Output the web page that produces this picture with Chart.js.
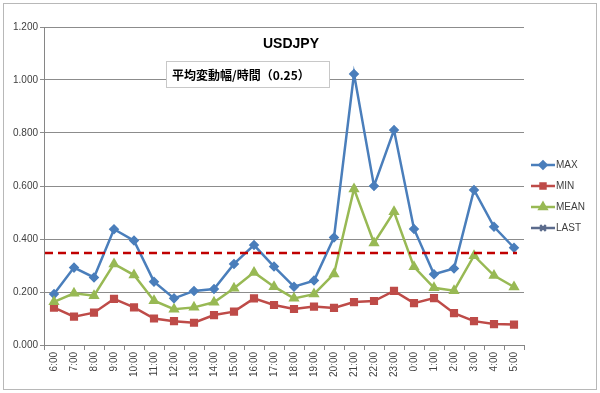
<!DOCTYPE html>
<html>
<head>
<meta charset="utf-8">
<script src="https://cdn.jsdelivr.net/npm/chart.js@4.4.1/dist/chart.umd.min.js"></script>
<style>
html,body{margin:0;padding:0;background:#fff;}
#wrap{position:relative;width:600px;height:393px;}
</style>
</head>
<body>
<div id="wrap"><canvas id="c" width="600" height="393"></canvas></div>
<script>
const categories = ["6:00","7:00","8:00","9:00","10:00","11:00","12:00","13:00","14:00","15:00","16:00","17:00","18:00","19:00","20:00","21:00","22:00","23:00","0:00","1:00","2:00","3:00","4:00","5:00"];
const maxValues  = [0.192,0.292,0.255,0.437,0.394,0.239,0.176,0.204,0.211,0.306,0.377,0.296,0.220,0.243,0.406,1.023,0.600,0.811,0.438,0.267,0.289,0.585,0.446,0.367];
const minValues  = [0.141,0.107,0.122,0.174,0.142,0.100,0.090,0.084,0.113,0.126,0.176,0.151,0.136,0.145,0.140,0.162,0.166,0.204,0.158,0.177,0.120,0.090,0.079,0.077];
const meanValues = [0.163,0.195,0.186,0.306,0.264,0.167,0.135,0.142,0.161,0.214,0.274,0.220,0.176,0.192,0.268,0.589,0.385,0.503,0.295,0.216,0.205,0.337,0.262,0.219];
const lastValues = [];
// dashed reference level, drawn from the axis to just past the last category
const thresholdLevel = 0.347;
const thresholdSpan = [0.05, 23.65];
const yTicks = [0, 0.2, 0.4, 0.6, 0.8, 1.0, 1.2];
const chartTitle = "USDJPY";
const subTitle = "平均変動幅/時間（0.25）";

const COLORS = {MAX:"#4A7EBB", MIN:"#BE4B48", MEAN:"#98B954", LAST:"#5B6B8C", TH:"#C00000"};
const FONT = "'Liberation Sans', Arial, sans-serif";

const legendItems = [
  {label:"MAX", color:COLORS.MAX, style:"rectRot", r:3.5},
  {label:"MIN", color:COLORS.MIN, style:"rect", r:3.5},
  {label:"MEAN", color:COLORS.MEAN, style:"triangle", r:4},
  {label:"LAST", color:COLORS.LAST, style:"crossRot", r:4}
];

const decor = {
  id:"decor",
  beforeDraw(chart){
    const ctx = chart.ctx;
    ctx.save();
    ctx.fillStyle = "#fff";
    ctx.fillRect(0,0,chart.width,chart.height);
    ctx.strokeStyle = "#b8b8b8";
    ctx.lineWidth = 1;
    ctx.strokeRect(3.5,3.5,593,386);
    ctx.restore();
  },
  afterDraw(chart){
    const ctx = chart.ctx;
    ctx.save();
    ctx.fillStyle = "#000";
    ctx.font = "bold 14px " + FONT;
    ctx.textAlign = "center";
    ctx.textBaseline = "middle";
    ctx.fillText(chartTitle, 291, 44);
    ctx.fillStyle = "#fff";
    ctx.fillRect(166, 61, 163, 26);
    ctx.strokeStyle = "#c8c8c8";
    ctx.lineWidth = 1;
    ctx.strokeRect(166.5, 61.5, 163, 26);
    ctx.fillStyle = "#000";
    ctx.font = "bold 12px 'Noto Sans CJK JP', " + FONT;
    ctx.textAlign = "left";
    ctx.fillText(subTitle, 172, 75);
    const ys = [165, 186, 207, 228];
    legendItems.forEach((it,i)=>{
      const y = ys[i];
      ctx.strokeStyle = it.color;
      ctx.lineWidth = 2.5;
      ctx.beginPath();
      ctx.moveTo(531, y);
      ctx.lineTo(555, y);
      ctx.stroke();
      ctx.fillStyle = it.color;
      ctx.strokeStyle = it.color;
      Chart.helpers.drawPoint(ctx, {pointStyle: it.style, radius: it.r, borderWidth: 1.5, rotation: 0}, 543, y);
      ctx.fillStyle = "#404040";
      ctx.font = "10px " + FONT;
      ctx.textAlign = "left";
      ctx.textBaseline = "middle";
      ctx.fillText(it.label, 556, y + 0.5);
    });
    ctx.restore();
  }
};

new Chart(document.getElementById("c"), {
  type: "line",
  data: {
    labels: categories,
    datasets: [
      {label:"TH", data: thresholdSpan.map(x => ({x: x, y: thresholdLevel})), xAxisID: "x2", borderColor: COLORS.TH, borderWidth: 2.5, borderDash:[8,5], pointRadius:0, order:0, tension:0},
      {label:"LAST", data: lastValues, borderColor: COLORS.LAST, backgroundColor: COLORS.LAST, borderWidth: 2.5, pointStyle:"crossRot", pointRadius:4, order:1},
      {label:"MEAN", data: meanValues, borderColor: COLORS.MEAN, backgroundColor: COLORS.MEAN, borderWidth: 2.5, pointStyle:"triangle", pointRadius:4, order:2},
      {label:"MIN", data: minValues, borderColor: COLORS.MIN, backgroundColor: COLORS.MIN, borderWidth: 2.5, pointStyle:"rect", pointRadius:4, order:3},
      {label:"MAX", data: maxValues, borderColor: COLORS.MAX, backgroundColor: COLORS.MAX, borderWidth: 2.5, pointStyle:"rectRot", pointRadius:3.5, order:4}
    ]
  },
  options: {
    responsive: false,
    animation: false,
    devicePixelRatio: 1,
    layout: {padding: {left: 0, right: 76, top: 27, bottom: 0}},
    plugins: {legend: {display: false}, tooltip: {enabled: false}, title: {display: false}},
    elements: {line: {tension: 0}, point: {borderWidth: 1}},
    scales: {
      x: {
        type: "category",
        offset: true,
        grid: {offset: true, drawOnChartArea: false, drawTicks: true, tickLength: 5, color: "#868686"},
        border: {display: true, color: "#868686", width: 1},
        ticks: {minRotation: 90, maxRotation: 90, autoSkip: false, color: "#404040", font: {size: 10, family: FONT}, padding: 2},
        afterFit(s){ s.height = 48; }
      },
      x2: {
        type: "linear", min: 0, max: categories.length, display: false
      },
      y: {
        min: 0, max: 1.2,
        afterBuildTicks(s){ s.ticks = yTicks.map(v => ({value: v})); },
        grid: {color: "#8c8c8c", lineWidth: 1, drawTicks: true, tickLength: 4},
        border: {display: true, color: "#868686", width: 1},
        ticks: {color: "#404040", font: {size: 10, family: FONT}, padding: 2, callback: v => Number(v).toFixed(3)},
        afterFit(s){ s.width = 44; }
      }
    }
  },
  plugins: [decor]
});
</script>
</body>
</html>
